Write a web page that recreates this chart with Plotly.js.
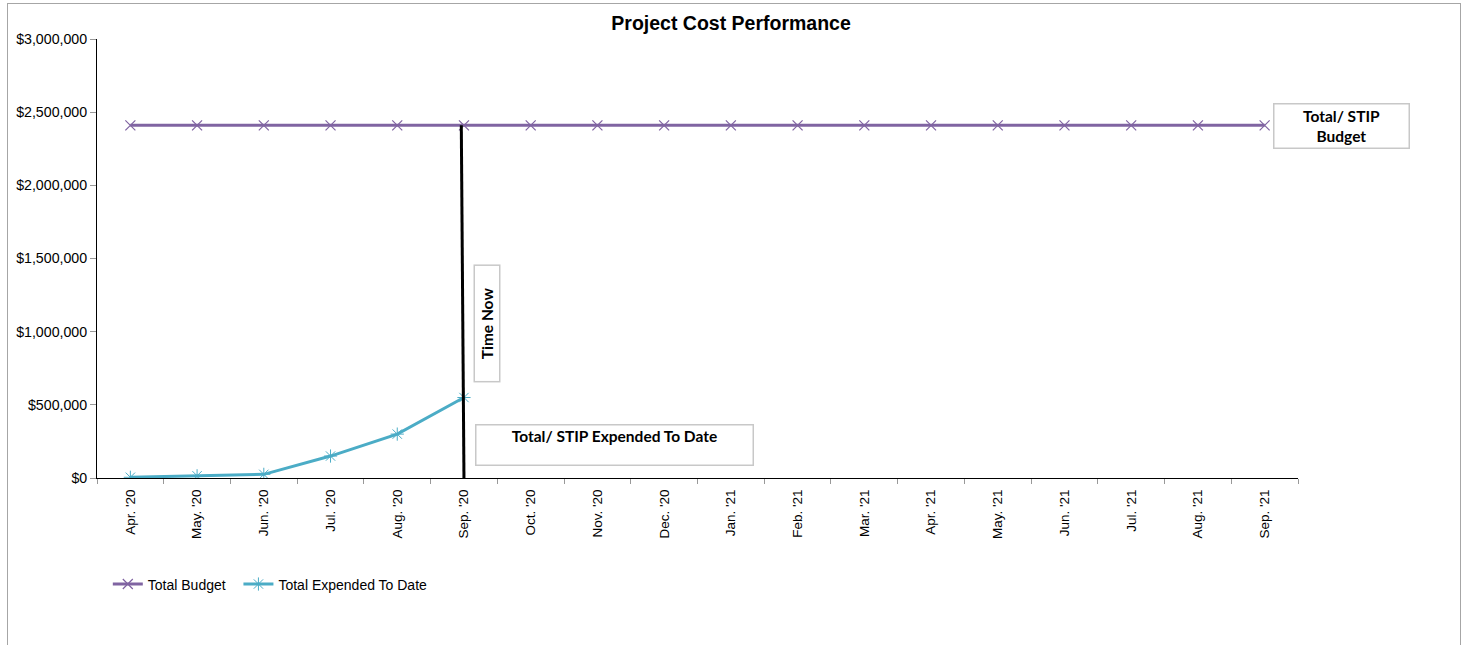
<!DOCTYPE html>
<html>
<head>
<meta charset="utf-8">
<script src="https://cdn.plot.ly/plotly-3.0.1.min.js"></script>
<style>
  html, body { margin: 0; padding: 0; background: #fff; }
  #wrap { position: relative; width: 1465px; height: 645px; overflow: hidden; }
  #chart { position: absolute; left: 0; top: 0; width: 1465px; height: 645px; }
  #frame { position: absolute; left: 7px; top: 3px; width: 1452px; height: 700px; border: 1px solid #a6a6a6; pointer-events: none; }
</style>
</head>
<body>
<div id="wrap">
  <div id="chart"></div>
  <div id="frame"></div>
</div>
<script>
const months = ["Apr. '20","May. '20","Jun. '20","Jul. '20","Aug. '20","Sep. '20","Oct. '20","Nov. '20","Dec. '20","Jan. '21","Feb. '21","Mar. '21","Apr. '21","May. '21","Jun. '21","Jul. '21","Aug. '21","Sep. '21"];
const totalBudget = [2410000,2410000,2410000,2410000,2410000,2410000,2410000,2410000,2410000,2410000,2410000,2410000,2410000,2410000,2410000,2410000,2410000,2410000];
const totalExpended = [5000,15000,25000,150000,300000,550000,null,null,null,null,null,null,null,null,null,null,null,null];
const timeNowIndex = 5;
const budgetValue = 2410000;

const traces = [
  {
    x: months, y: totalBudget, name: "Total Budget&nbsp;&nbsp;", type: "scatter", mode: "lines+markers",
    line: {color: "#8064A2", width: 3},
    marker: {symbol: "x-thin-open", size: 10, color: "#8064A2", line: {color: "#8064A2", width: 1.2}}
  },
  {
    x: months, y: totalExpended, name: "Total Expended To Date", type: "scatter", mode: "lines+markers",
    line: {color: "#4BACC6", width: 3},
    marker: {symbol: "asterisk-open", size: 11, color: "#4BACC6", line: {color: "#4BACC6", width: 1}}
  }
];

const boxFont = {family: "Lato, 'Open Sans', sans-serif", size: 15.5, color: "#000", weight: "bold"};

const layout = {
  width: 1465, height: 645,
  margin: {l: 97, r: 167, t: 39, b: 167},
  paper_bgcolor: "rgba(0,0,0,0)", plot_bgcolor: "#fff",
  font: {family: "'Liberation Sans', Arial, sans-serif", size: 13, color: "#000"},
  title: {text: "<b>Project Cost Performance</b>", x: 0.499, xref: "container", y: 0.964, yref: "container", yanchor: "middle",
          font: {family: "'Liberation Sans', Arial, sans-serif", size: 19.5, color: "#000"}},
  showlegend: true,
  legend: {orientation: "h", x: 0.009, xref: "paper", y: -0.206, yanchor: "top", font: {size: 14}, itemwidth: 30, tracegroupgap: 0},
  xaxis: {
    type: "category", range: [-0.5, 17.5], showgrid: false, zeroline: false,
    showline: true, linecolor: "#000", linewidth: 1,
    ticks: "outside", tickson: "boundaries", ticklen: 5, tickcolor: "#999",
    tickangle: -90, tickfont: {size: 13.5}, ticklabelstandoff: 5, fixedrange: true
  },
  yaxis: {
    range: [0, 3000000], dtick: 500000, tick0: 0, tickformat: "$,.0f", showgrid: false, zeroline: false,
    showline: true, linecolor: "#000", linewidth: 1,
    ticks: "outside", ticklen: 6, tickcolor: "#999", tickfont: {size: 14.2}, fixedrange: true
  },
  shapes: [
    {type: "line", xref: "x", yref: "y", x0: timeNowIndex - 0.04, y0: budgetValue, x1: timeNowIndex, y1: 0,
     line: {color: "#000", width: 3}}
  ],
  annotations: [
    {text: "Total/ STIP<br>Budget", xref: "paper", yref: "paper", x: 1.0366, y: 0.8007, xanchor: "center", yanchor: "middle",
     showarrow: false, bgcolor: "#fff", bordercolor: "#c8c8c8", borderwidth: 1.5, width: 132, height: 41, font: boxFont},
    {text: "Time Now", textangle: -90, xref: "paper", yref: "paper", x: 0.3247, y: 0.352, xanchor: "center", yanchor: "middle",
     showarrow: false, bgcolor: "#fff", bordercolor: "#c8c8c8", borderwidth: 1.5, width: 113, height: 22, font: boxFont},
    {text: "Total/ STIP Expended To Date", xref: "paper", yref: "paper", x: 0.4305, y: 0.0763, xanchor: "center", yanchor: "middle",
     showarrow: false, bgcolor: "#fff", bordercolor: "#c8c8c8", borderwidth: 1.5, width: 274, height: 37, valign: "top", font: boxFont}
  ]
};

Plotly.newPlot("chart", traces, layout, {displayModeBar: false, staticPlot: true});
</script>
</body>
</html>
